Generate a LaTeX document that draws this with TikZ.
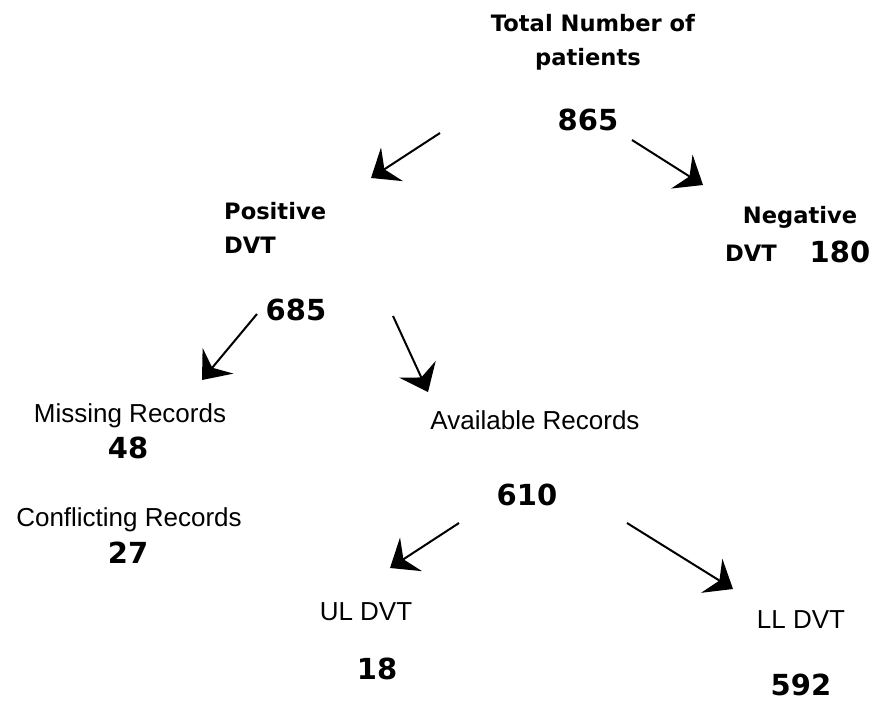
\documentclass[tikz,border=0pt]{standalone}
\usepackage{fontspec}
\setmainfont{Liberation Sans}
\newfontfamily\numfont{DejaVu Sans}
\usetikzlibrary{arrows.meta}

\begin{document}
\begin{tikzpicture}[x=1pt, y=-1pt,
    lbl/.style={font=\fontsize{26}{30}\selectfont, inner sep=0pt, anchor=base},
    head/.style={font=\numfont\bfseries\fontsize{22.6}{26}\selectfont, inner sep=0pt, anchor=base},
    num/.style={font=\numfont\bfseries\fontsize{29}{34}\selectfont, inner sep=0pt, anchor=base},
    flow/.style={line width=2pt, -{Stealth[length=25pt, width=40pt, inset=9pt]}}]
    \useasboundingbox (0,0) rectangle (874,704);
    % top
    \node[head] (total) at (593,31) {Total Number of};
    \node[head] (patients) at (588,65) {patients};
    \node[num] (n865) at (588,130) {865};
    % positive / negative
    \node[head, anchor=base west] (positive) at (224,219) {Positive};
    \node[head, anchor=base west] (posdvt) at (224,253) {DVT};
    \node[num] (n685) at (296,320) {685};
    \node[head] (negative) at (800,223) {Negative};
    \node[head] (negdvt) at (751,261) {DVT};
    \node[num] (n180) at (840,262) {180};
    % records
    \node[lbl] (missing) at (130,422) {Missing Records};
    \node[num] (n48) at (128,458) {48};
    \node[lbl] (conflict) at (129,526) {Conflicting Records};
    \node[num] (n27) at (128,563) {27};
    \node[lbl] (available) at (535,429) {Available Records};
    \node[num] (n610) at (527,505) {610};
    % upper / lower limb
    \node[lbl] (uldvt) at (366,620) {UL DVT};
    \node[num] (n18) at (377,679) {18};
    \node[lbl] (lldvt) at (801,628) {LL DVT};
    \node[num] (n592) at (801,695) {592};
    % arrow ends
    \coordinate (totL) at (440,133);  \coordinate (posT) at (371,178);
    \coordinate (totR) at (632,140);  \coordinate (negT) at (703,185);
    \coordinate (posL) at (257,314);  \coordinate (misT) at (202,380);
    \coordinate (posR) at (393,316);  \coordinate (avaT) at (428,392);
    \coordinate (avaL) at (459,523);  \coordinate (ulT) at (390,568);
    \coordinate (avaR) at (627,523);  \coordinate (llT) at (733,589);
    \foreach \s/\t in {totL/posT, totR/negT, posL/misT, posR/avaT, avaL/ulT, avaR/llT} {
        \draw[flow] (\s) -- (\t);
    }
\end{tikzpicture}
\end{document}
